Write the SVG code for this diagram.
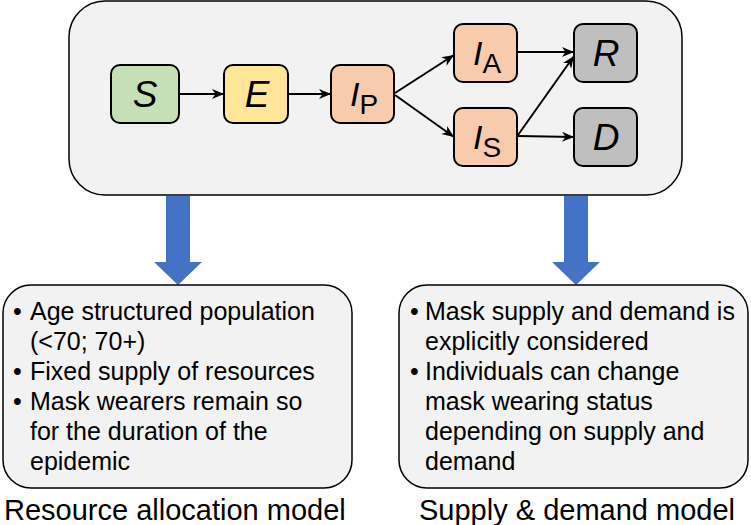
<svg xmlns="http://www.w3.org/2000/svg" width="751" height="525" viewBox="0 0 751 525">
<defs>
<style>
.panel{fill:#f2f2f2;stroke:#000;stroke-width:1.5}
.node{stroke:#000;stroke-width:2}
.s{fill:#c5e0b4}.e{fill:#ffe699}.i{fill:#f8cbad}.g{fill:#bfbfbf}
.lbl{font-family:"Liberation Sans",Arial,sans-serif;font-style:italic;font-size:37px;fill:#000;text-anchor:middle}
.il{font-family:"Liberation Sans",Arial,sans-serif;font-style:italic;font-size:34px;fill:#000;text-anchor:middle}
.sub{font-style:normal;font-size:28px}
.edge{fill:none;stroke:#000;stroke-width:2;marker-end:url(#ah)}
.body{font-family:"Liberation Sans",Arial,sans-serif;font-size:25px;fill:#000}
.cap{font-family:"Liberation Sans",Arial,sans-serif;font-size:29px;fill:#000}
.big{fill:#4472c4}
</style>
<marker id="ah" markerUnits="userSpaceOnUse" markerWidth="13" markerHeight="11" refX="12" refY="5" orient="auto" viewBox="0 0 13 11">
<path d="M0,0 L12,5 L0,10 L3.5,5 z" fill="#000"/>
</marker>
</defs>

<g id="model-panel">
<rect class="panel" x="69" y="1" width="613" height="194" rx="36" ry="36"/>
</g>

<g id="node-S">
<rect class="node s" x="111" y="65" width="68" height="58" rx="9"/>
<text class="lbl" x="145" y="107">S</text>
</g>
<g id="node-E">
<rect class="node e" x="224" y="65" width="64" height="58" rx="9"/>
<text class="lbl" x="257" y="107">E</text>
</g>
<g id="node-IP">
<rect class="node i" x="331" y="65" width="63" height="58" rx="9"/>
<text class="il" x="364" y="106">I<tspan class="sub" dy="8">P</tspan></text>
</g>
<g id="node-IA">
<rect class="node i" x="454" y="24" width="63" height="58" rx="9"/>
<text class="il" x="487" y="65">I<tspan class="sub" dy="8">A</tspan></text>
</g>
<g id="node-IS">
<rect class="node i" x="454" y="108" width="63" height="58" rx="9"/>
<text class="il" x="487" y="149">I<tspan class="sub" dy="8">S</tspan></text>
</g>
<g id="node-R">
<rect class="node g" x="574" y="24" width="63" height="58" rx="9"/>
<text class="lbl" x="606" y="66">R</text>
</g>
<g id="node-D">
<rect class="node g" x="574" y="108" width="63" height="58" rx="9"/>
<text class="lbl" x="606" y="150">D</text>
</g>

<g id="connectors">
<line class="edge" x1="179" y1="94" x2="224" y2="94"/>
<line class="edge" x1="288" y1="94" x2="331" y2="94"/>
<line class="edge" x1="395" y1="93" x2="454" y2="55"/>
<line class="edge" x1="395" y1="95" x2="454" y2="137"/>
<line class="edge" x1="517" y1="52" x2="574" y2="52"/>
<line class="edge" x1="518" y1="135" x2="574" y2="56"/>
<line class="edge" x1="518" y1="136" x2="574" y2="137"/>
<path class="big" d="M166,196 H190 V262 H202 L178,285 L154,262 H166 Z"/>
<path class="big" d="M564,196 H588 V262 H600 L576,285 L552,262 H564 Z"/>
</g>

<g id="resource-box">
<rect class="panel" x="3" y="285" width="349" height="203" rx="28" ry="28"/>
<text class="body" x="13" y="320">•</text>
<text class="body" x="30" y="320">Age structured population</text>
<text class="body" x="30" y="350">(&lt;70; 70+)</text>
<text class="body" x="13" y="380">•</text>
<text class="body" x="30" y="380">Fixed supply of resources</text>
<text class="body" x="13" y="410">•</text>
<text class="body" x="30" y="410">Mask wearers remain so</text>
<text class="body" x="30" y="440">for the duration of the</text>
<text class="body" x="30" y="470">epidemic</text>
<text class="cap" x="4" y="520">Resource allocation model</text>
</g>

<g id="supply-box">
<rect class="panel" x="399" y="285" width="349" height="203" rx="28" ry="28"/>
<text class="body" x="410" y="320">•</text>
<text class="body" x="425" y="320">Mask supply and demand is</text>
<text class="body" x="425" y="350">explicitly considered</text>
<text class="body" x="410" y="380">•</text>
<text class="body" x="425" y="380">Individuals can change</text>
<text class="body" x="425" y="410">mask wearing status</text>
<text class="body" x="425" y="440">depending on supply and</text>
<text class="body" x="425" y="470">demand</text>
<text class="cap" x="419" y="520">Supply &amp; demand model</text>
</g>
</svg>
